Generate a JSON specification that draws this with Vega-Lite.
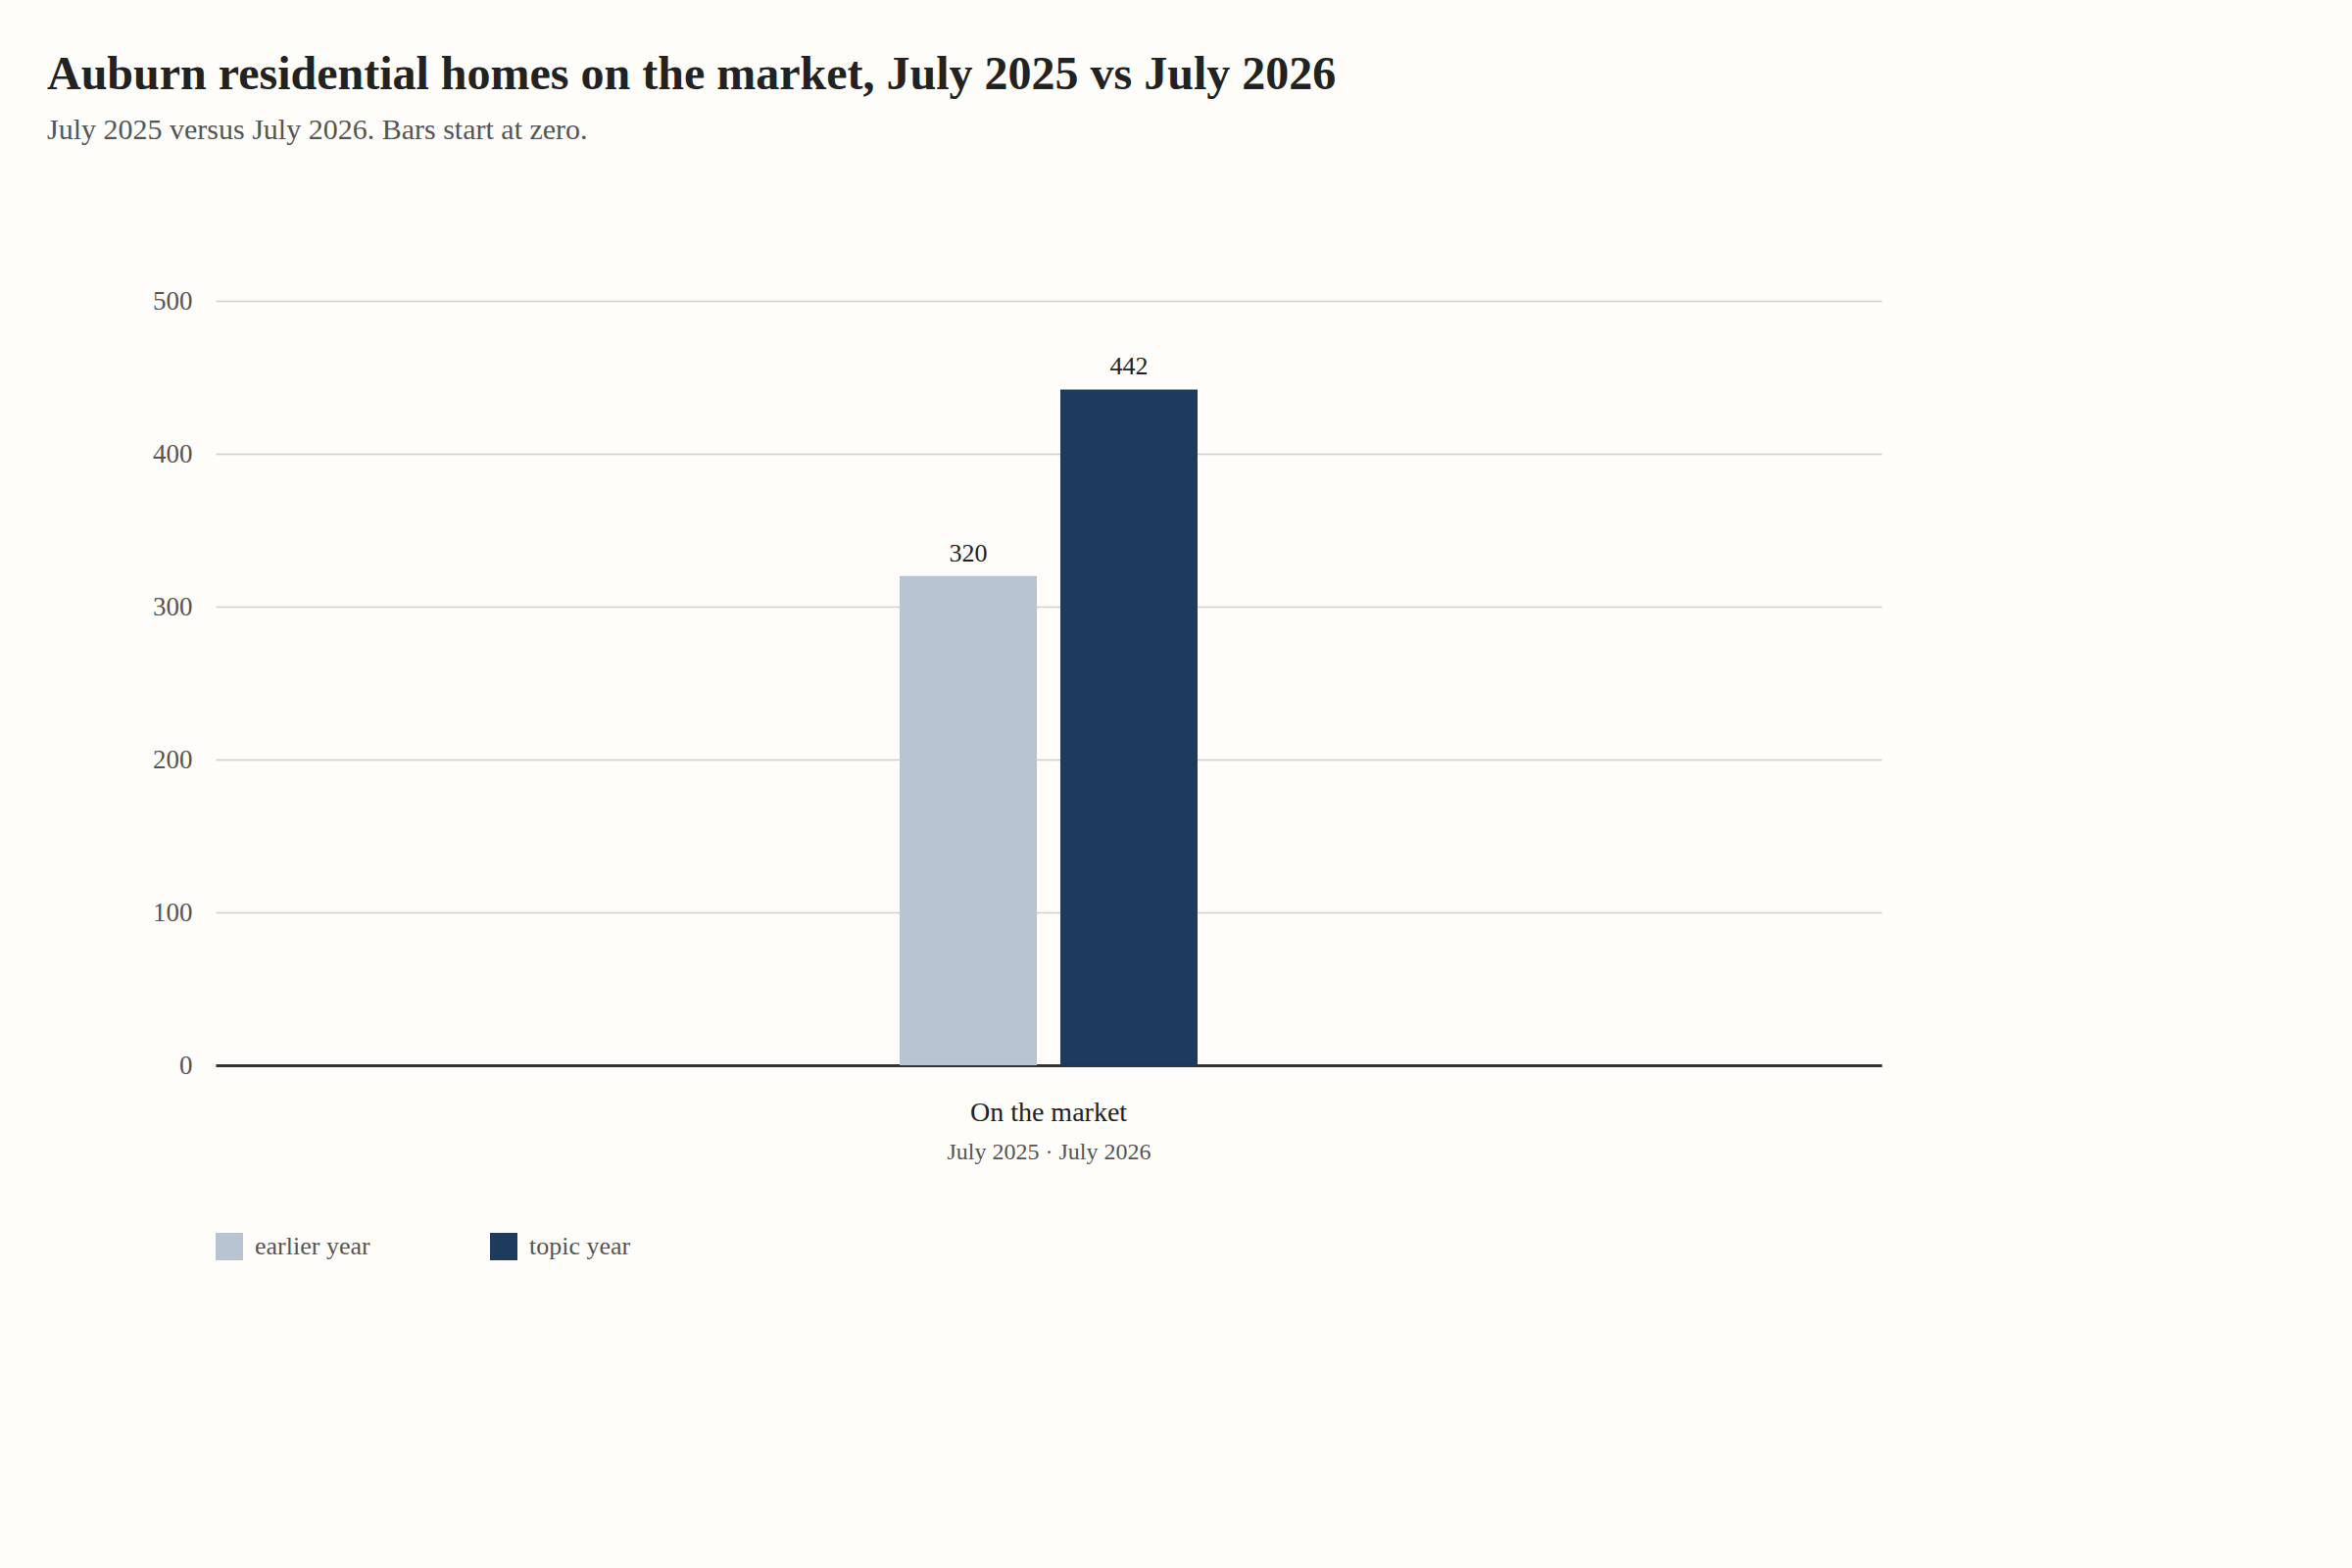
{
  "$schema": "https://vega.github.io/schema/vega-lite/v6.json",
  "autosize": {"type": "none"},
  "width": 1700,
  "height": 780,
  "padding": {"left": 220, "top": 307, "right": 480, "bottom": 513},
  "background": "#fefdf9",
  "title": {
    "text": "Auburn residential homes on the market, July 2025 vs July 2026",
    "subtitle": "July 2025 versus July 2026. Bars start at zero.",
    "anchor": "start",
    "frame": "group",
    "dx": -172,
    "offset": 145,
    "font": "Liberation Serif",
    "fontSize": 48,
    "fontWeight": "bold",
    "color": "#222222",
    "subtitleFont": "Liberation Serif",
    "subtitleFontSize": 30,
    "subtitleColor": "#555555",
    "subtitlePadding": 17
  },
  "data": {
    "values": [
      {"metric": "On the market", "series": "earlier year", "value": 320},
      {"metric": "On the market", "series": "topic year", "value": 442}
    ]
  },
  "encoding": {
    "x": {
      "field": "metric",
      "type": "nominal",
      "scale": {"paddingInner": 0.5645, "paddingOuter": 1},
      "axis": {
        "title": "July 2025 · July 2026",
        "titleFont": "Liberation Serif",
        "titleFontSize": 24,
        "titleFontWeight": "normal",
        "titleColor": "#555555",
        "titlePadding": 14,
        "labelAngle": 0,
        "labelFont": "Liberation Serif",
        "labelFontSize": 28,
        "labelColor": "#222222",
        "labelPadding": 34,
        "ticks": false,
        "tickSize": 0,
        "domain": true,
        "domainColor": "#333333",
        "domainWidth": 3,
        "grid": false
      }
    },
    "xOffset": {
      "field": "series",
      "type": "nominal",
      "scale": {"paddingInner": 0.146, "paddingOuter": 0}
    },
    "y": {
      "field": "value",
      "type": "quantitative",
      "scale": {"domain": [0, 500], "nice": false},
      "axis": {
        "title": null,
        "values": [0, 100, 200, 300, 400, 500],
        "grid": true,
        "gridColor": "#d3cfc6",
        "gridWidth": 1.5,
        "domain": false,
        "ticks": false,
        "tickSize": 0,
        "labelPadding": 24,
        "labelFont": "Liberation Serif",
        "labelFontSize": 27,
        "labelColor": "#555555"
      }
    }
  },
  "layer": [
    {
      "mark": {"type": "bar"},
      "encoding": {
        "color": {
          "field": "series",
          "type": "nominal",
          "scale": {"domain": ["earlier year", "topic year"], "range": ["#b8c4d1", "#1f3a5f"]},
          "legend": {
            "title": null,
            "orient": "none",
            "legendX": 0,
            "legendY": 951,
            "direction": "horizontal",
            "symbolType": "square",
            "symbolSize": 784,
            "symbolStrokeWidth": 0,
            "labelFont": "Liberation Serif",
            "labelFontSize": 26,
            "labelColor": "#555555",
            "labelOffset": 12,
            "columnPadding": 122,
            "gridAlign": "all",
            "labelLimit": 400
          }
        }
      }
    },
    {
      "mark": {
        "type": "text",
        "baseline": "alphabetic",
        "dy": -15,
        "font": "Liberation Serif",
        "fontSize": 26,
        "color": "#222222"
      },
      "encoding": {
        "text": {"field": "value", "type": "quantitative"}
      }
    }
  ],
  "config": {
    "view": {"stroke": null},
    "font": "Liberation Serif"
  }
}
